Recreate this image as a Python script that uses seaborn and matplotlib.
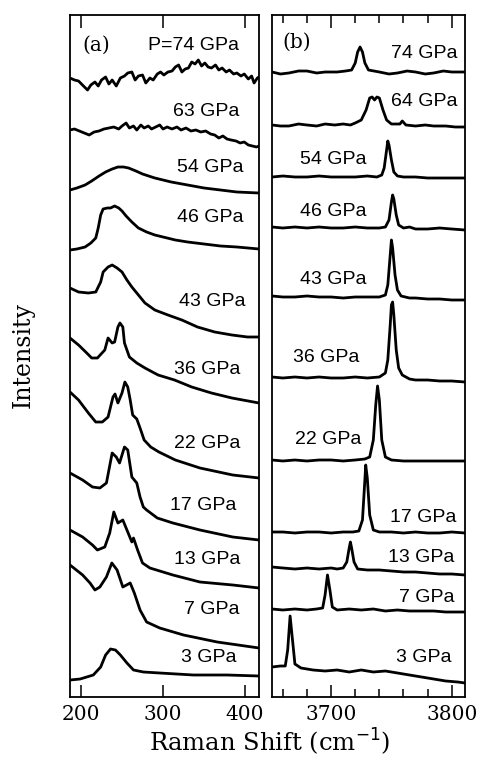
""" Raman spectra under pressure, two panels """

import matplotlib
matplotlib.use("Agg")
import matplotlib.pyplot as plt
from matplotlib.ticker import MultipleLocator
import pandas as pd
import seaborn as sns

# ---- panel (a): lattice region, shift in cm-1, intensity stacked (arb. units)
a74_x = [186.6, 192, 197, 203, 208, 212, 217, 221, 225, 230, 234, 238, 243, 248, 253, 257, 262, 266, 270, 275,
         279, 284, 288, 293, 297, 301, 306, 311, 315, 319, 323, 327, 331, 335, 339, 343, 347, 351, 355, 359,
         364, 368, 372, 377, 381, 386, 390, 395, 399, 404, 408, 411, 415, 417]
a74_y = [619, 617, 616, 611, 607, 612, 615, 611, 617, 620, 613, 617, 611, 619, 621, 624, 625, 617, 621, 622,
         614, 619, 617, 623, 625, 622, 625, 626, 630, 632, 625, 628, 629, 635, 633, 637, 631, 634, 630, 629,
         632, 627, 629, 625, 627, 623, 624, 621, 623, 618, 621, 614, 619, 620]
a63_x = [186.6, 192, 198, 204, 210, 216, 222, 228, 234, 240, 246, 250, 255, 259, 264, 268, 273, 277, 282, 286,
         291, 296, 300, 305, 311, 317, 322, 328, 334, 340, 346, 352, 358, 363, 368, 373, 378, 383, 389, 394,
         399, 404, 409, 414, 417]
a63_y = [567, 568, 566, 564, 562, 565, 566, 568, 569, 570, 568, 571, 574, 569, 571, 567, 572, 569, 571, 568,
         570, 572, 568, 570, 568, 570, 567, 569, 566, 567, 565, 566, 563, 562, 559, 561, 558, 557, 556, 554,
         555, 552, 551, 550, 551]
a54_x = [186.6, 195, 205, 213, 222, 230, 238, 245, 252, 258, 267, 275, 290, 310, 330, 350, 370, 390, 417]
a54_y = [507, 509, 512, 516, 521, 525, 528, 530, 530, 529, 526, 523, 519, 515, 512, 509, 507, 505, 504]
a46_x = [186.6, 195, 205, 212, 218, 221, 224, 227, 232, 236, 241, 246, 250, 255, 262, 270, 280, 290, 300, 315,
         330, 350, 370, 390, 417]
a46_y = [447, 448, 450, 454, 459, 469, 482, 488, 489, 489, 491, 489, 486, 481, 475, 469, 465, 462, 460, 457,
         455, 453, 451, 450, 448]
a43_x = [186.6, 197, 209, 218, 224, 227, 233, 238, 244, 250, 256, 262, 270, 278, 290, 306, 323, 342, 363, 384, 403, 417]
a43_y = [409, 405, 404, 405, 415, 425, 430, 432, 429, 425, 417, 410, 402, 394, 387, 382, 377, 370, 365, 362, 360, 360]
a36_x = [186.6, 197, 207, 213, 220, 229, 233, 238, 241, 245, 247.5, 251, 253, 259, 268, 278, 294, 314, 335, 359, 384, 417]
a36_y = [359, 352, 344, 339, 339, 347, 359, 354, 355, 370, 374, 370, 354, 340, 334, 329, 322, 317, 310, 304, 299, 294]
a22_x = [186.6, 197, 209, 218, 226, 233, 239, 241.5, 245, 250, 253.5, 257, 260, 263, 268, 272, 277, 285, 295, 315,
         345, 385, 417]
a22_y = [305, 297, 284, 275, 275, 280, 300, 303, 294, 304, 315, 310, 297, 282, 278, 269, 257, 250, 245, 237,
         229, 222, 219]
a17_x = [186.6, 202, 214, 223, 231, 238, 243, 247, 253, 257, 262, 268, 272, 276, 280, 293, 312, 345, 385, 417]
a17_y = [224, 217, 210, 209, 214, 244, 240, 234, 250, 247, 220, 214, 200, 190, 187, 179, 174, 167, 160, 157]
a13_x = [186.6, 202, 214, 220, 229, 235, 240, 245, 251, 256, 262, 264, 269, 275, 284, 312, 345, 385, 417]
a13_y = [167, 160, 152, 147, 150, 164, 185, 174, 177, 167, 155, 159, 147, 134, 129, 122, 115, 112, 109]
a7_x = [186.6, 202, 211, 217, 223, 231, 237.6, 244, 251, 260, 265, 272, 280, 296, 325, 366, 417]
a7_y = [132, 122, 114, 107, 110, 120, 134, 127, 110, 114, 104, 87, 75, 69, 62, 55, 49]
a3_x = [186.6, 199, 215, 224, 230, 236, 242, 248, 256, 264, 276, 296, 337, 378, 417]
a3_y = [17, 18, 22, 30, 42, 48, 47, 42, 34, 27, 25, 24, 22, 22, 21]

# ---- panel (b): O-H stretch region
b74_x = [3651, 3658, 3665, 3673, 3680, 3688, 3695, 3705, 3712, 3717, 3720, 3722, 3724, 3726, 3728, 3731, 3740,
         3748, 3755, 3763, 3770, 3778, 3785, 3793, 3800, 3811]
b74_y = [625, 623, 624, 626, 626, 624, 625, 625, 626, 627, 634, 645, 650, 645, 634, 627, 625,
         623, 624, 626, 625, 623, 624, 626, 625, 625]
b64_x = [3651, 3658, 3665, 3673, 3680, 3688, 3695, 3703, 3710, 3716, 3720, 3725, 3729, 3732, 3734, 3736, 3738,
         3740, 3743, 3746, 3750, 3757, 3759, 3762, 3770, 3778, 3785, 3795, 3803, 3811]
b64_y = [572, 571, 571, 573, 572, 571, 573, 572, 573, 572, 574, 577, 587, 599, 600, 597, 600,
         599, 587, 577, 573, 573, 576, 572, 571, 572, 571, 571, 570, 570]
b54_x = [3651, 3660, 3670, 3680, 3690, 3700, 3710, 3720, 3730, 3738, 3742, 3744, 3746, 3747, 3748, 3750, 3752,
         3755, 3760, 3770, 3780, 3790, 3800, 3811]
b54_y = [520, 521, 520, 520, 521, 520, 520, 520, 521, 520, 522, 529, 547, 556, 552, 537, 525,
         521, 520, 520, 519, 519, 519, 519]
b46_x = [3651, 3660, 3670, 3680, 3690, 3700, 3710, 3720, 3730, 3740, 3745, 3748, 3750, 3751, 3752, 3754, 3756,
         3760, 3765, 3770, 3780, 3790, 3800, 3811]
b46_y = [470, 469, 470, 469, 470, 469, 469, 470, 469, 469, 470, 477, 495, 502, 498, 482, 472,
         469, 470, 468, 468, 469, 468, 467]
b43_x = [3651, 3660, 3670, 3680, 3690, 3700, 3710, 3720, 3730, 3740, 3745, 3747, 3749, 3750, 3751, 3753, 3755,
         3758, 3765, 3770, 3780, 3790, 3800, 3811]
b43_y = [401, 400, 400, 401, 400, 400, 399, 400, 400, 400, 402, 412, 442, 457, 449, 422, 407,
         401, 399, 399, 398, 398, 397, 397]
b36_x = [3651, 3660, 3670, 3680, 3690, 3700, 3710, 3720, 3730, 3740, 3745, 3747, 3749, 3750, 3751, 3752, 3754,
         3756, 3759, 3765, 3770, 3780, 3790, 3800, 3811]
b36_y = [320, 319, 320, 319, 320, 319, 319, 320, 319, 320, 324, 337, 372, 392, 395, 382, 347,
         329, 322, 318, 317, 317, 316, 316, 315]
b22_x = [3651, 3660, 3670, 3680, 3690, 3700, 3710, 3720, 3728, 3732, 3735, 3737, 3738.5, 3740, 3742, 3745,
         3750, 3760, 3770, 3780, 3790, 3800, 3811]
b22_y = [237, 236, 237, 236, 237, 237, 236, 237, 238, 240, 257, 292, 311, 297, 257, 240,
         237, 236, 236, 236, 236, 236, 236]
b17_x = [3651, 3660, 3670, 3680, 3690, 3700, 3710, 3718, 3723, 3726, 3727.5, 3728.7, 3730, 3732, 3735, 3740,
         3750, 3760, 3770, 3780, 3790, 3800, 3811]
b17_y = [165, 165, 164, 165, 165, 164, 165, 165, 166, 177, 207, 232, 219, 182, 167, 165,
         165, 164, 165, 164, 164, 165, 164]
b13_x = [3651, 3660, 3670, 3680, 3690, 3700, 3705, 3710, 3713, 3715, 3716, 3717, 3719, 3722, 3730, 3740,
         3750, 3760, 3770, 3780, 3790, 3800, 3811]
b13_y = [130, 129, 128, 129, 128, 129, 128, 129, 135, 149, 155, 149, 135, 128, 127, 127,
         126, 125, 125, 124, 123, 123, 122]
b7_x = [3651, 3660, 3670, 3680, 3688, 3693, 3695, 3697, 3699, 3701, 3705, 3715, 3725, 3735, 3745, 3755,
        3765, 3775, 3785, 3795, 3811]
b7_y = [88, 87, 88, 87, 88, 89, 102, 122, 107, 90, 87, 88, 87, 88, 86, 87,
        86, 86, 86, 85, 85]
b3_x = [3651, 3658, 3662, 3664, 3666, 3668, 3670, 3675, 3685, 3695, 3705, 3715, 3725, 3735, 3745, 3755,
        3765, 3775, 3785, 3795, 3805, 3811]
b3_y = [30, 31, 31, 47, 81, 57, 33, 29, 27, 26, 27, 25, 27, 25, 26, 24,
        22, 20, 18, 16, 15, 14]

pressures_a = ['74', '63', '54', '46', '43', '36', '22', '17', '13', '7', '3']
pressures_b = ['74', '64', '54', '46', '43', '36', '22', '17', '13', '7', '3']
traces_a = [(a74_x, a74_y), (a63_x, a63_y), (a54_x, a54_y), (a46_x, a46_y), (a43_x, a43_y), (a36_x, a36_y),
            (a22_x, a22_y), (a17_x, a17_y), (a13_x, a13_y), (a7_x, a7_y), (a3_x, a3_y)]
traces_b = [(b74_x, b74_y), (b64_x, b64_y), (b54_x, b54_y), (b46_x, b46_y), (b43_x, b43_y), (b36_x, b36_y),
            (b22_x, b22_y), (b17_x, b17_y), (b13_x, b13_y), (b7_x, b7_y), (b3_x, b3_y)]


def to_long(pressures, traces):
    rows = []
    for p, (xs, ys) in zip(pressures, traces):
        rows += [(p, x, y) for x, y in zip(xs, ys)]
    return pd.DataFrame(rows, columns=['pressure', 'shift', 'intensity'])


df_a = to_long(pressures_a, traces_a)
df_b = to_long(pressures_b, traces_b)

sns.set_style('ticks')
plt.rcParams['font.family'] = ['DejaVu Serif']
plt.rcParams.update({'text.color': 'black', 'axes.edgecolor': 'black',
                     'xtick.color': 'black', 'axes.labelcolor': 'black'})
SANS = 'Liberation Sans'

fig = plt.figure(figsize=(4.82, 7.69), dpi=100)
ax_a = fig.add_axes([70 / 482, 72 / 769, 189 / 482, 682 / 769])
ax_b = fig.add_axes([272 / 482, 72 / 769, 193 / 482, 682 / 769])

for ax, df in ((ax_a, df_a), (ax_b, df_b)):
    sns.lineplot(data=df, x='shift', y='intensity', units='pressure', estimator=None, sort=False,
                 color='black', linewidth=2.0, ax=ax, legend=False)
    ax.set_ylim(0, 682)
    ax.set_yticks([])
    ax.set_xlabel('')
    ax.set_ylabel('')
    for s in ax.spines.values():
        s.set_visible(True)
        s.set_linewidth(1.3)
        s.set_color('black')
    ax.tick_params(axis='x', which='both', direction='in', top=True, bottom=True,
                   labelsize=14.5, pad=6, width=1.1, colors='black')

ax_a.set_xlim(186.6, 417)
ax_a.xaxis.set_major_locator(MultipleLocator(100))
ax_a.tick_params(axis='x', which='major', length=9)

ax_b.set_xlim(3651, 3811)
ax_b.xaxis.set_major_locator(MultipleLocator(100))
ax_b.xaxis.set_minor_locator(MultipleLocator(20))
ax_b.tick_params(axis='x', which='major', length=9)
ax_b.tick_params(axis='x', which='minor', length=6, width=1.1)

# pressure labels
lab_a = [(392.7, 652, 'P=74 GPa'), (393, 585, '63 GPa'), (397.6, 530, '54 GPa'), (397.6, 479, '46 GPa'),
         (400, 395, '43 GPa'), (394, 327, '36 GPa'), (394, 254, '22 GPa'), (390, 192, '17 GPa'),
         (394, 137, '13 GPa'), (393, 87, '7 GPa'), (390, 39, '3 GPa')]
for x, y, t in lab_a:
    ax_a.text(x, y, t, ha='right', va='center', fontsize=14, family=SANS, color='black')

lab_b = [(3804.7, 644, '74 GPa', 'right'), (3804.7, 596, '64 GPa', 'right'), (3674, 537, '54 GPa', 'left'),
         (3674, 485, '46 GPa', 'left'), (3674, 417, '43 GPa', 'left'), (3668, 339, '36 GPa', 'left'),
         (3670, 257, '22 GPa', 'left'), (3804, 179, '17 GPa', 'right'), (3802, 139, '13 GPa', 'right'),
         (3802, 99, '7 GPa', 'right'), (3800, 39, '3 GPa', 'right')]
for x, y, t, ha in lab_b:
    ax_b.text(x, y, t, ha=ha, va='center', fontsize=14, family=SANS, color='black')

ax_a.text(202, 652, '(a)', ha='left', va='center', fontsize=14.5)
ax_b.text(3660, 655, '(b)', ha='left', va='center', fontsize=14.5)

fig.text(0.048, 0.538, 'Intensity', rotation=90, ha='center', va='center', fontsize=17)
fig.text(0.56, 0.035, 'Raman Shift (cm$^{-1}$)', ha='center', va='center', fontsize=17.5)

fig.savefig('out.png', dpi=100)
